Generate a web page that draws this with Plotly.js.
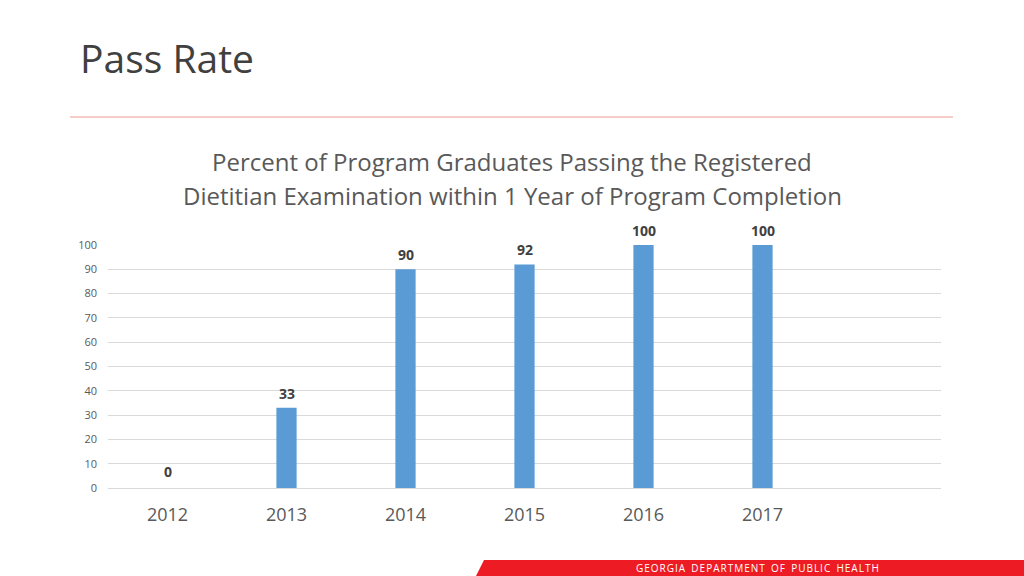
<!DOCTYPE html>
<html>
<head>
<meta charset="utf-8">
<script src="https://cdn.plot.ly/plotly-3.0.1.min.js"></script>
<style>
html,body{margin:0;padding:0;background:#fff;}
#chart{width:1024px;height:576px;}
</style>
</head>
<body>
<div id="chart"></div>
<script>
const years = ["2012", "2013", "2014", "2015", "2016", "2017"];
const passRates = [0, 33, 90, 92, 100, 100];
const yTicks = [0, 10, 20, 30, 40, 50, 60, 70, 80, 90, 100];

const W = 1024, H = 576;
const M = {l: 108, r: 83, t: 245, b: 88};
const pw = W - M.l - M.r, ph = H - M.t - M.b;
const px = x => (x - M.l) / pw;
const py = y => (H - M.b - y) / ph;

const font = "Open Sans, Noto Sans, sans-serif";

const labelAnns = years.map((yr, i) => ({
  x: i, y: passRates[i], xref: "x", yref: "y",
  text: "<b>" + passRates[i] + "</b>", showarrow: false,
  yanchor: "bottom", yshift: passRates[i] === 0 ? 5 : 3,
  font: {family: font, size: 14, color: "#404040"}
}));

const layout = {
  width: W, height: H,
  margin: M,
  paper_bgcolor: "#ffffff", plot_bgcolor: "#ffffff",
  showlegend: false,
  bargap: 0.83,
  xaxis: {
    type: "category",
    range: [-0.5, 6.5],
    showgrid: false, zeroline: false,
    showline: false,
    ticks: "",
    tickfont: {family: font, size: 18, color: "#595959"},
    ticklabelstandoff: 14
  },
  yaxis: {
    range: [0, 100],
    tickvals: yTicks,
    showgrid: true, gridcolor: "#d9d9d9", gridwidth: 1,
    zeroline: true, zerolinecolor: "#d9d9d9", zerolinewidth: 1,
    showline: false, ticks: "",
    tickfont: {family: font, size: 11, color: "#595959"},
    ticklabelstandoff: 10
  },
  shapes: [
    {type: "line", xref: "paper", yref: "paper",
     x0: px(70), x1: px(953), y0: py(117), y1: py(117),
     line: {color: "#F4BDB5", width: 1.5}},
    {type: "path", xref: "paper", yref: "paper",
     path: `M ${px(484)} ${py(560)} L ${px(1024)} ${py(560)} L ${px(1024)} ${py(576)} L ${px(476)} ${py(576)} Z`,
     fillcolor: "#ED1C24", line: {width: 0}}
  ],
  annotations: [
    {xref: "paper", yref: "paper", x: px(78), y: py(57), xanchor: "left", yanchor: "middle",
     text: "Pass Rate", showarrow: false,
     font: {family: font, size: 39, color: "#404040"}},
    {xref: "paper", yref: "paper", x: px(512), y: py(161), xanchor: "center", yanchor: "middle",
     text: "Percent of Program Graduates Passing the Registered", showarrow: false,
     font: {family: font, size: 24, color: "#595959"}},
    {xref: "paper", yref: "paper", x: px(512), y: py(196), xanchor: "center", yanchor: "middle",
     text: "Dietitian Examination within 1 Year of Program Completion", showarrow: false,
     font: {family: font, size: 24, color: "#595959"}},
    {xref: "paper", yref: "paper", x: px(757), y: py(568), xanchor: "center", yanchor: "middle",
     text: "G E O R G I A   D E P A R T M E N T   O F   P U B L I C   H E A L T H".replace(/ (?! )/g, "\u200A").replace(/   /g, "  "),
     showarrow: false,
     font: {family: font, size: 10, color: "#ffffff"}}
  ].concat(labelAnns)
};

const data = [{
  type: "bar",
  x: years, y: passRates,
  marker: {color: "#5B9BD5"},
  hoverinfo: "x+y"
}];

Plotly.newPlot("chart", data, layout, {displayModeBar: false, staticPlot: true});
</script>
</body>
</html>
